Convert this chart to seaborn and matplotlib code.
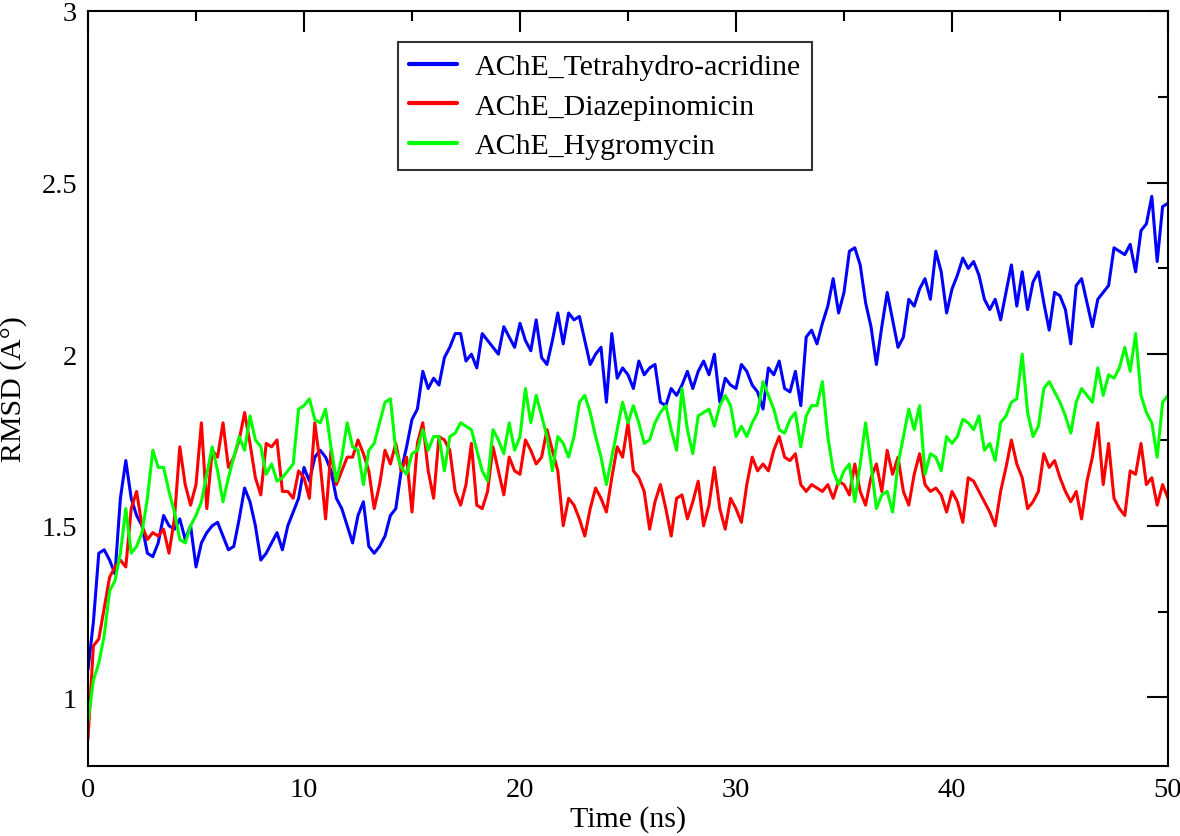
import numpy as np
import pandas as pd
import matplotlib
matplotlib.use("Agg")
import matplotlib.pyplot as plt
import seaborn as sns
from matplotlib.ticker import MultipleLocator, FormatStrFormatter

# ---- data (0.25 ns sampling) ----
time_ns = np.arange(201) * 0.25

series_names = ["AChE_Tetrahydro-acridine", "AChE_Diazepinomicin", "AChE_Hygromycin"]
series_colors = ["#0000ff", "#ff0000", "#00ff00"]

tetrahydro_acridine = [
    1.08, 1.22, 1.42, 1.43, 1.40, 1.36, 1.58, 1.69, 1.58, 1.53, 1.50, 1.42, 1.41, 1.45, 1.53, 1.50, 1.49, 1.52,
    1.46, 1.50, 1.38, 1.45, 1.48, 1.50, 1.51, 1.47, 1.43, 1.44, 1.52, 1.61, 1.57, 1.50, 1.40, 1.42, 1.45, 1.48,
    1.43, 1.50, 1.54, 1.58, 1.67, 1.63, 1.70, 1.72, 1.70, 1.66, 1.58, 1.55, 1.50, 1.45, 1.53, 1.57, 1.44, 1.42,
    1.44, 1.47, 1.53, 1.55, 1.66, 1.73, 1.81, 1.84, 1.95, 1.90, 1.93, 1.91, 1.99, 2.02, 2.06, 2.06, 1.98, 2.00,
    1.96, 2.06, 2.04, 2.02, 2.00, 2.08, 2.05, 2.02, 2.09, 2.04, 2.01, 2.10, 1.99, 1.97, 2.04, 2.12, 2.03, 2.12,
    2.10, 2.11, 2.04, 1.97, 2.00, 2.02, 1.86, 2.06, 1.93, 1.96, 1.94, 1.90, 1.98, 1.94, 1.96, 1.97, 1.86,
    1.85, 1.90, 1.88, 1.91, 1.95, 1.90, 1.95, 1.98, 1.94, 2.00, 1.86, 1.93, 1.91, 1.90, 1.97, 1.95, 1.91, 1.89,
    1.84, 1.96, 1.94, 1.98, 1.90, 1.89, 1.95, 1.85, 2.05, 2.07, 2.03, 2.09, 2.14, 2.22, 2.12, 2.18, 2.30,
    2.31, 2.26, 2.15, 2.08, 1.97, 2.08, 2.18, 2.10, 2.02, 2.05, 2.16, 2.14, 2.19, 2.22, 2.16, 2.30, 2.24, 2.12,
    2.19, 2.23, 2.28, 2.25, 2.27, 2.23, 2.16, 2.13, 2.16, 2.10, 2.18, 2.26, 2.14, 2.24, 2.13, 2.21, 2.24,
    2.15, 2.07, 2.18, 2.17, 2.13, 2.03, 2.20, 2.22, 2.15, 2.08, 2.16, 2.18, 2.20, 2.31, 2.30, 2.29, 2.32, 2.24,
    2.36, 2.38, 2.46, 2.27, 2.43, 2.44,
]

diazepinomicin = [
    0.88, 1.15, 1.17, 1.26, 1.35, 1.38, 1.40, 1.38, 1.55, 1.60, 1.50, 1.46, 1.48, 1.47, 1.49, 1.42, 1.52, 1.73,
    1.62, 1.56, 1.62, 1.80, 1.55, 1.72, 1.70, 1.80, 1.67, 1.70, 1.75, 1.83, 1.74, 1.64, 1.59, 1.74, 1.73, 1.75,
    1.60, 1.60, 1.58, 1.66, 1.64, 1.58, 1.80, 1.68, 1.52, 1.72, 1.62, 1.66, 1.70, 1.70, 1.75, 1.71, 1.66, 1.55,
    1.62, 1.72, 1.68, 1.74, 1.66, 1.70, 1.54, 1.74, 1.80, 1.66, 1.58, 1.76, 1.75, 1.72, 1.60, 1.56, 1.62, 1.74,
    1.56, 1.55, 1.60, 1.73, 1.66, 1.59, 1.70, 1.66, 1.65, 1.75, 1.72, 1.68, 1.70, 1.78, 1.72, 1.66, 1.50, 1.58,
    1.56, 1.52, 1.47, 1.55, 1.61, 1.58, 1.54, 1.64, 1.73, 1.70, 1.80, 1.66, 1.64, 1.60, 1.49, 1.57, 1.62,
    1.55, 1.47, 1.58, 1.59, 1.52, 1.57, 1.63, 1.50, 1.56, 1.67, 1.55, 1.49, 1.58, 1.55, 1.51, 1.62, 1.70, 1.66,
    1.68, 1.66, 1.72, 1.76, 1.70, 1.69, 1.71, 1.62, 1.60, 1.62, 1.61, 1.60, 1.62, 1.58, 1.63, 1.62, 1.59,
    1.68, 1.60, 1.56, 1.64, 1.68, 1.60, 1.72, 1.65, 1.70, 1.60, 1.56, 1.65, 1.71, 1.62, 1.60, 1.61, 1.59, 1.54,
    1.60, 1.57, 1.51, 1.64, 1.63, 1.60, 1.57, 1.54, 1.50, 1.60, 1.67, 1.75, 1.68, 1.64, 1.55, 1.57, 1.60,
    1.71, 1.67, 1.69, 1.64, 1.60, 1.57, 1.60, 1.52, 1.63, 1.70, 1.80, 1.62, 1.74, 1.58, 1.55, 1.53, 1.66, 1.65,
    1.74, 1.62, 1.64, 1.56, 1.62, 1.58,
]

hygromycin = [
    0.93, 1.05, 1.10, 1.18, 1.31, 1.34, 1.42, 1.55, 1.42, 1.44, 1.48, 1.58, 1.72, 1.67, 1.67, 1.60, 1.54, 1.46,
    1.45, 1.50, 1.53, 1.57, 1.65, 1.73, 1.66, 1.57, 1.64, 1.70, 1.76, 1.72, 1.82, 1.75, 1.73, 1.65, 1.68, 1.63,
    1.64, 1.66, 1.68, 1.84, 1.85, 1.87, 1.81, 1.80, 1.84, 1.73, 1.63, 1.70, 1.80, 1.73, 1.72, 1.62, 1.72, 1.74,
    1.80, 1.86, 1.87, 1.72, 1.67, 1.65, 1.71, 1.72, 1.78, 1.72, 1.76, 1.76, 1.66, 1.76, 1.77, 1.80, 1.79, 1.78,
    1.72, 1.66, 1.63, 1.78, 1.75, 1.71, 1.80, 1.72, 1.76, 1.90, 1.80, 1.88, 1.82, 1.76, 1.66, 1.76, 1.74, 1.70,
    1.76, 1.86, 1.88, 1.83, 1.76, 1.70, 1.62, 1.70, 1.78, 1.86, 1.80, 1.85, 1.80, 1.74, 1.75, 1.80, 1.83,
    1.85, 1.78, 1.72, 1.90, 1.78, 1.71, 1.82, 1.83, 1.84, 1.79, 1.85, 1.88, 1.85, 1.76, 1.79, 1.76, 1.80, 1.83,
    1.92, 1.88, 1.84, 1.78, 1.77, 1.81, 1.83, 1.73, 1.82, 1.85, 1.85, 1.92, 1.76, 1.66, 1.62, 1.66, 1.68,
    1.57, 1.68, 1.80, 1.68, 1.55, 1.59, 1.60, 1.54, 1.68, 1.76, 1.84, 1.78, 1.85, 1.65, 1.71, 1.70, 1.66, 1.76,
    1.74, 1.76, 1.81, 1.80, 1.78, 1.82, 1.72, 1.74, 1.69, 1.80, 1.82, 1.86, 1.87, 2.00, 1.83, 1.76, 1.79,
    1.90, 1.92, 1.89, 1.86, 1.82, 1.77, 1.86, 1.90, 1.88, 1.86, 1.96, 1.88, 1.94, 1.93, 1.96, 2.02, 1.95, 2.06,
    1.88, 1.83, 1.80, 1.70, 1.86, 1.88,
]

x_ticks = [0, 10, 20, 30, 40, 50]
y_ticks = [1, 1.5, 2, 2.5, 3]

# ---- build long-form table ----
frames = []
for name, vals in zip(series_names, [tetrahydro_acridine, diazepinomicin, hygromycin]):
    frames.append(pd.DataFrame({"Time": time_ns, "RMSD": vals, "Series": name}))
df = pd.concat(frames, ignore_index=True)

sns.set_style("white")
plt.rcParams["font.family"] = ["Liberation Serif", "DejaVu Serif"]
plt.rcParams["text.color"] = "black"
plt.rcParams["axes.labelcolor"] = "black"
plt.rcParams["xtick.color"] = "black"
plt.rcParams["ytick.color"] = "black"

fig = plt.figure(figsize=(11.8, 8.37), dpi=100)
ax = fig.add_axes([88 / 1180, 1 - 767 / 837, 1080 / 1180, 755 / 837])

sns.lineplot(data=df, x="Time", y="RMSD", hue="Series", hue_order=series_names,
             palette=series_colors, linewidth=2.2, ax=ax, estimator=None, sort=False)

ax.set_xlim(0, 50)
ax.set_ylim(0.8, 3.0)
ax.set_xticks(x_ticks)
ax.set_yticks(y_ticks)
ax.xaxis.set_minor_locator(MultipleLocator(5))
ax.yaxis.set_minor_locator(MultipleLocator(0.25))
ax.yaxis.set_major_formatter(FormatStrFormatter("%g"))
ax.tick_params(which="both", direction="in", top=True, right=True, width=1.5, colors="black",
               labelsize=20.5, labelcolor="black")
ax.tick_params(which="major", length=15, pad=8)
ax.tick_params(which="minor", length=7.5)
for sp in ax.spines.values():
    sp.set_visible(True)
    sp.set_linewidth(1.5)
    sp.set_color("black")

ax.set_xlabel("Time (ns)", fontsize=21.5, labelpad=2, color="black")
ax.set_ylabel("RMSD (A°)", fontsize=21.5, labelpad=10, color="black")

handles, labels = ax.get_legend_handles_labels()
leg = ax.legend(handles, labels, loc="upper left", bbox_to_anchor=(0.287, 0.959),
                borderaxespad=0, fontsize=21.5, frameon=True, fancybox=False,
                edgecolor="black", handlelength=1.6, handletextpad=0.6,
                labelspacing=0.42, borderpad=0.38)
leg.get_frame().set_linewidth(1.5)
for h in leg.get_lines():
    h.set_linewidth(3)

fig.savefig("out.png", dpi=100, facecolor="white")
